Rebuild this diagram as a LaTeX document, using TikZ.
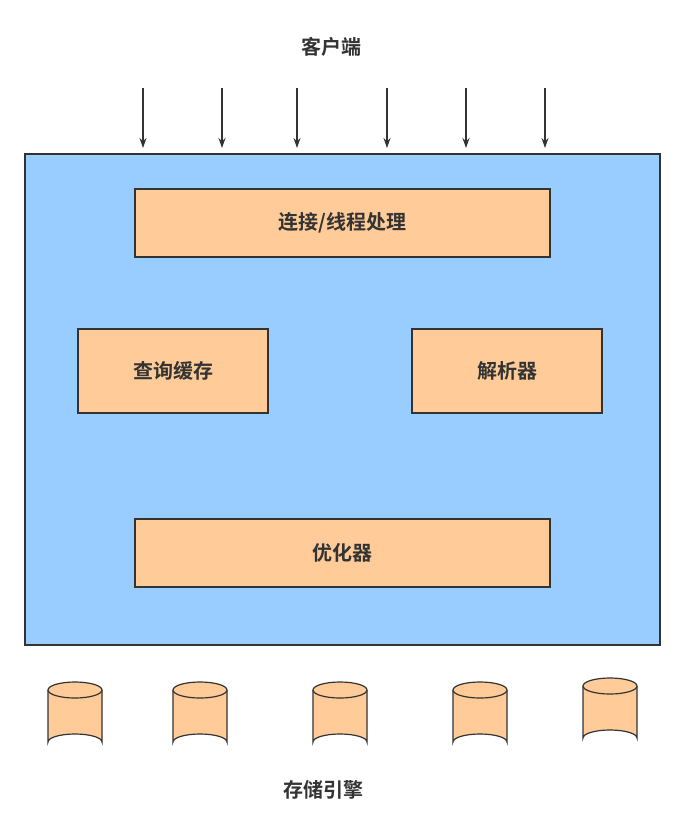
\documentclass[tikz,border=0pt]{standalone}
\usepackage{fontspec}
\usetikzlibrary{arrows.meta}
\newfontfamily\cjk{Noto Sans CJK SC}[BoldFont=* Bold]
\definecolor{bluefill}{HTML}{99CCFF}
\definecolor{orfill}{HTML}{FFCC99}
\definecolor{edge}{HTML}{333333}
\tikzset{
  procbox/.style={draw=edge, fill=orfill, line width=1.2pt, font=\cjk\bfseries\fontsize{20}{24}\selectfont, text=edge},
  lbl/.style={font=\cjk\bfseries\fontsize{20}{24}\selectfont, text=edge},
  arr/.style={-{Stealth[length=10pt,width=7pt]}, draw=edge, line width=1.2pt},
  cyl/.style={draw=edge, fill=orfill, line width=1.2pt}
}
\newcommand{\mycyl}[3]{% x, top y, name
  \coordinate (#3) at (#1,#2);
  \fill[orfill] (#1-27,#2) -- (#1-27,#2+52) arc[start angle=180,end angle=360,x radius=27,y radius=8] -- (#1+27,#2) -- cycle;
  \draw[cyl] (#1-27,#2) -- (#1-27,#2+52) arc[start angle=180,end angle=360,x radius=27,y radius=8] -- (#1+27,#2);
  \draw[cyl] (#1,#2) ellipse[x radius=27,y radius=8];
}
\begin{document}
\begin{tikzpicture}[x=1pt,y=-1pt]
\useasboundingbox (0,0) rectangle (685,837);
\node[draw=edge, fill=bluefill, line width=1.2pt, minimum width=635pt, minimum height=491pt, inner sep=0pt] (main) at (342.5,399.5) {};
\node[procbox, minimum width=415pt, minimum height=68pt] (conn) at (342.5,223) {连接/线程处理};
\node[procbox, minimum width=190pt, minimum height=84pt] (cache) at (173,371) {查询缓存};
\node[procbox, minimum width=190pt, minimum height=84pt] (parse) at (507,371) {解析器};
\node[procbox, minimum width=415pt, minimum height=68pt] (opt) at (342.5,553) {优化器};
\node[lbl] (client) at (331,47) {客户端};
\node[lbl] (engine) at (323,790) {存储引擎};
\foreach \x/\n in {143/a,222/b,297/c,387/d,466/e,545/f}{
  \coordinate (s\n) at (\x,88);
  \coordinate (t\n) at (\x,148);
  \draw[arr] (s\n) -- (t\n);
}
\mycyl{75}{690}{c1}
\mycyl{200}{690}{c2}
\mycyl{340}{690}{c3}
\mycyl{480}{690}{c4}
\mycyl{610}{686}{c5}
\end{tikzpicture}
\end{document}
